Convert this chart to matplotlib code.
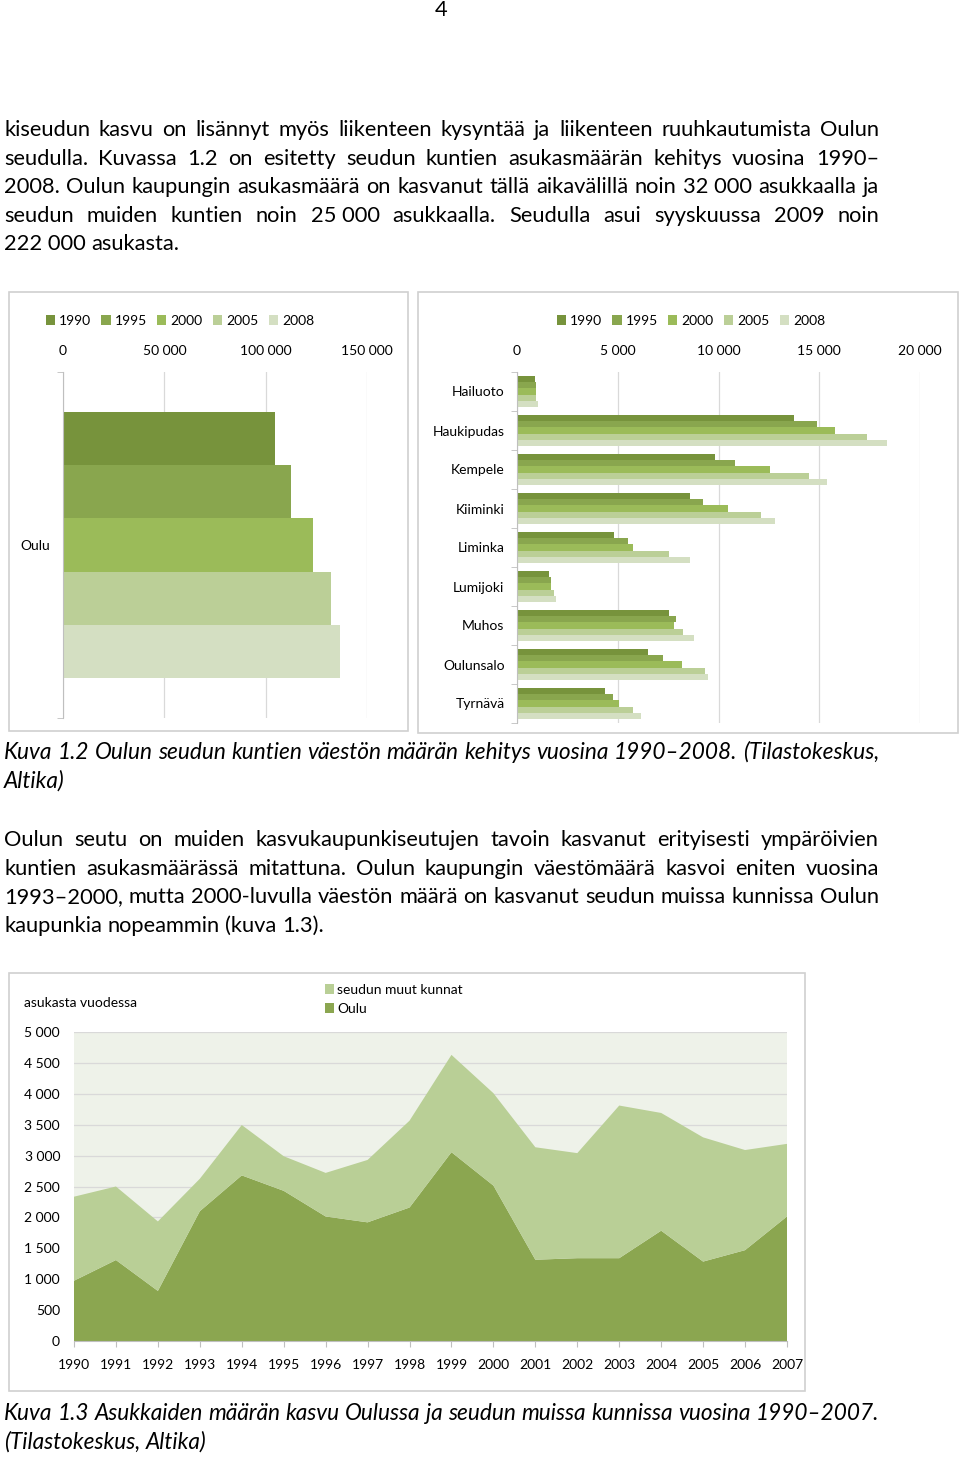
import matplotlib
matplotlib.use("Agg")
import matplotlib.pyplot as plt
import numpy as np
from matplotlib.patches import Rectangle

# --- data ---------------------------------------------------------------
years = ["1990", "1995", "2000", "2005", "2008"]
year_colors = ["#77933C", "#89A64E", "#9BBB59", "#BBCF97", "#D4DFC2"]

oulu_pop = [104400, 112300, 123600, 132000, 136500]

kunnat = ["Hailuoto", "Haukipudas", "Kempele", "Kiiminki", "Liminka",
          "Lumijoki", "Muhos", "Oulunsalo", "Tyrnävä"]
pop_1990 = [900, 13750, 9840, 8580, 4830, 1600, 7520, 6520, 4380]
pop_1995 = [950, 14910, 10800, 9210, 5520, 1690, 7900, 7230, 4780]
pop_2000 = [960, 15790, 12560, 10470, 5750, 1710, 7800, 8200, 5070]
pop_2005 = [960, 17390, 14500, 12110, 7520, 1860, 8250, 9320, 5750]
pop_2008 = [1040, 18380, 15360, 12800, 8580, 1930, 8770, 9490, 6140]

vuodet = list(range(1990, 2008))
kasvu_oulu = [975, 1310, 810, 2100, 2680, 2430, 2015, 1920, 2160,
              3055, 2515, 1315, 1340, 1340, 1785, 1285, 1470, 2015]
kasvu_muut = [1360, 1190, 1125, 525, 815, 560, 705, 1010, 1405,
              1575, 1495, 1820, 1700, 2470, 1905, 2010, 1620, 1175]

para1 = [
    "kiseudun kasvu on lisännyt myös liikenteen kysyntää ja liikenteen ruuhkautumista Oulun",
    "seudulla. Kuvassa 1.2 on esitetty seudun kuntien asukasmäärän kehitys vuosina 1990–",
    "2008. Oulun kaupungin asukasmäärä on kasvanut tällä aikavälillä noin 32\u00a0000 asukkaalla ja",
    "seudun muiden kuntien noin 25\u00a0000 asukkaalla. Seudulla asui syyskuussa 2009 noin",
    "222\u00a0000 asukasta.",
]
caption1 = ["Kuva 1.2 Oulun seudun kuntien väestön määrän kehitys vuosina 1990–2008. (Tilastokeskus,",
            "Altika)"]
para2 = [
    "Oulun seutu on muiden kasvukaupunkiseutujen tavoin kasvanut erityisesti ympäröivien",
    "kuntien asukasmäärässä mitattuna. Oulun kaupungin väestömäärä kasvoi eniten vuosina",
    "1993–2000, mutta 2000-luvulla väestön määrä on kasvanut seudun muissa kunnissa Oulun",
    "kaupunkia nopeammin (kuva 1.3).",
]
caption2 = ["Kuva 1.3 Asukkaiden määrän kasvu Oulussa ja seudun muissa kunnissa vuosina 1990–2007.",
            "(Tilastokeskus, Altika)"]

# --- page setup -----------------------------------------------------------
W, H = 960, 1457
plt.rcParams['font.family'] = ['Lato', 'DejaVu Sans']
fig = plt.figure(figsize=(W / 100, H / 100), dpi=100)
fig.patch.set_facecolor("white")
rend = fig.canvas.get_renderer()


def fx(px):
    return px / W


def fy(py):
    return 1 - py / H


def fit_size(lines, target_px, **kw):
    # font size at which the widest line just fills the text column
    widest = 0
    for s in lines:
        t = fig.text(0, 0, s, fontsize=10, **kw)
        widest = max(widest, t.get_window_extent(rend).width)
        t.remove()
    return 10 * target_px / widest


def write_line(s, y, size, justify=True, x0=4, x1=879, **kw):
    words = s.split(" ")
    objs = [fig.text(0, fy(y + 7), w, fontsize=size, va="baseline", ha="left", **kw)
            for w in words]
    widths = [o.get_window_extent(rend).width for o in objs]
    if justify and len(words) > 1:
        gap = (x1 - x0 - sum(widths)) / (len(words) - 1)
    else:
        a = fig.text(0, 0, "x x", fontsize=size, **kw)
        b = fig.text(0, 0, "xx", fontsize=size, **kw)
        gap = a.get_window_extent(rend).width - b.get_window_extent(rend).width
        a.remove(); b.remove()
    x = x0
    for o, w in zip(objs, widths):
        o.set_x(fx(x))
        x += w + gap


body = fit_size(para1[:-1] + para2[:-1], 873)
cap = fit_size([caption1[0], caption2[0]], 873, style="italic")

fig.text(fx(441), fy(10), "4", fontsize=body, ha="center", va="center")
for i, s in enumerate(para1):
    write_line(s, 129 + i * 28.6, body, justify=(i < len(para1) - 1))
for i, s in enumerate(caption1):
    write_line(s, 752 + i * 29, cap, justify=(i == 0), style="italic")
for i, s in enumerate(para2):
    write_line(s, 839 + i * 28.6, body, justify=(i < len(para2) - 1))
for i, s in enumerate(caption2):
    write_line(s, 1413 + i * 28.5, cap, justify=(i == 0), style="italic")

# chart frames
for (x0, y0, x1, y1) in [(9, 292, 408, 731), (418, 292, 958, 733), (9, 973, 805, 1391)]:
    fig.patches.append(Rectangle((fx(x0), fy(y1)), fx(x1 - x0), (y1 - y0) / H,
                                 transform=fig.transFigure, fill=False,
                                 edgecolor="#D0D0D0", lw=1.2))

grid_c = "#D9D9D9"
fs = 10


def style_bar_axes(ax, xmax, step, ncat):
    ax.set_xlim(0, xmax)
    ax.set_ylim(ncat - 0.5, -0.5)
    ax.xaxis.tick_top()
    ax.set_xticks(np.arange(0, xmax + 1, step))
    ax.set_xticklabels([f"{int(v):,}".replace(",", " ") for v in np.arange(0, xmax + 1, step)])
    ax.tick_params(axis="x", length=0, pad=11, labelsize=fs)
    ax.tick_params(axis="y", which="major", length=0, pad=9, labelsize=fs)
    ax.set_yticks(np.arange(-0.5, ncat, 1.0), minor=True)
    ax.tick_params(axis="y", which="minor", length=4, color="#BFBFBF", direction="out")
    ax.grid(axis="x", color=grid_c, lw=0.9)
    ax.set_axisbelow(True)
    for sp in ["top", "right", "bottom"]:
        ax.spines[sp].set_visible(False)
    ax.spines["left"].set_color("#BFBFBF")


bh = 0.77 / 5

# --- left chart: Oulu ------------------------------------------------------
axL = fig.add_axes([fx(63), fy(718), fx(367 - 63), 346 / H])
for j, (yr, c) in enumerate(zip(years, year_colors)):
    axL.barh([0 - 0.385 + bh * (j + 0.5)], [oulu_pop[j]], height=bh, color=c, label=yr)
style_bar_axes(axL, 150000, 50000, 1)
axL.set_yticks([0])
axL.set_yticklabels(["Oulu"])
axL.legend(loc="center", bbox_to_anchor=(fx(180), fy(321)), bbox_transform=fig.transFigure,
           ncol=5, frameon=False, fontsize=fs, handlelength=0.65, handleheight=0.65,
           handletextpad=0.3, columnspacing=0.75, borderpad=0)

# --- right chart: other municipalities -------------------------------------
axR = fig.add_axes([fx(517), fy(723), fx(920 - 517), 351 / H])
ypos = np.arange(len(kunnat))
series = [pop_1990, pop_1995, pop_2000, pop_2005, pop_2008]
for j, (yr, c, vals) in enumerate(zip(years, year_colors, series)):
    axR.barh(ypos - 0.385 + bh * (j + 0.5), vals, height=bh, color=c, label=yr)
style_bar_axes(axR, 20000, 5000, len(kunnat))
axR.set_yticks(ypos)
axR.set_yticklabels(kunnat)
axR.legend(loc="center", bbox_to_anchor=(fx(691), fy(321)), bbox_transform=fig.transFigure,
           ncol=5, frameon=False, fontsize=fs, handlelength=0.65, handleheight=0.65,
           handletextpad=0.3, columnspacing=0.75, borderpad=0)

# --- area chart --------------------------------------------------------------
axA = fig.add_axes([fx(74), fy(1341), fx(787 - 74), 309 / H])
axA.set_facecolor("#EEF2E9")
axA.stackplot(vuodet, kasvu_oulu, kasvu_muut, colors=["#8BA650", "#B9CF96"],
              labels=["Oulu", "seudun muut kunnat"], lw=0)
axA.set_xlim(1990, 2007)
axA.set_ylim(0, 5000)
axA.set_yticks(np.arange(0, 5001, 500))
axA.set_yticklabels([f"{v:,}".replace(",", " ") for v in range(0, 5001, 500)])
axA.set_xticks(vuodet)
axA.tick_params(axis="y", length=0, pad=10, labelsize=fs)
axA.tick_params(axis="x", length=4, color="#BFBFBF", pad=9, labelsize=fs)
axA.grid(axis="y", color=grid_c, lw=0.9)
axA.set_axisbelow(True)
for sp in ["top", "right", "left"]:
    axA.spines[sp].set_visible(False)
axA.spines["bottom"].set_color("#BFBFBF")
h, l = axA.get_legend_handles_labels()
axA.legend(h[::-1], l[::-1], loc="upper left", bbox_to_anchor=(fx(318), fy(977)),
           bbox_transform=fig.transFigure, frameon=False, fontsize=fs,
           handlelength=0.65, handleheight=0.65, handletextpad=0.25,
           labelspacing=0.5, borderpad=0)
fig.text(fx(24), fy(1003), "asukasta vuodessa", fontsize=fs, ha="left", va="center")

fig.savefig("out.png", dpi=100, facecolor="white")
